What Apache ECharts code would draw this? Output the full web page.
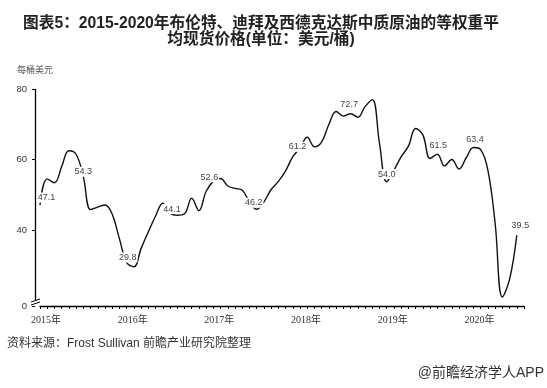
<!DOCTYPE html>
<html>
<head>
<meta charset="utf-8">
<script src="https://cdn.jsdelivr.net/npm/echarts@6.0.0/dist/echarts.min.js"></script>
<style>
html,body{margin:0;padding:0;background:#fff;}
#chart{width:547px;height:388px;}
</style>
</head>
<body>
<div id="chart"></div>
<script>
// ---- data ----
const months = [];
for (let y = 2015; y <= 2020; y++) {
  for (let m = 1; m <= 12; m++) {
    if (y === 2020 && m > 8) break;
    months.push(y + '-' + (m < 10 ? '0' + m : m));
  }
}
const prices = [
  47.1, 54.5, 53.4, 58.0, 62.5, 61.5, 55.1, 45.8, 46.5, 47.1, 44.5, 37.5,
  30.8, 29.6, 34.8, 39.5, 44.0, 47.6, 44.8, 44.2, 44.6, 49.0, 45.5, 51.0,
  53.8, 54.6, 52.5, 51.8, 51.3, 48.0, 45.9, 48.0, 51.5, 53.8, 56.8, 60.8,
  63.3, 66.3, 63.6, 65.0, 70.0, 73.6, 72.3, 73.0, 72.0, 75.0, 77.0, 64.5,
  53.7, 57.0, 60.8, 63.8, 68.8, 67.0, 60.3, 61.5, 58.2, 60.0, 57.3, 60.5,
  63.4, 62.8, 57.0, 42.0, 21.0, 26.0, 38.5
];
const labelIndex = [0, 6, 12, 18, 24, 30, 36, 43, 48, 55, 60, 66];
const labelText = ['47.1', '54.3', '29.8', '44.1', '52.6', '46.2', '61.2', '72.7', '54.0', '61.5', '63.4', '39.5'];
const yTicks = [0, 40, 60, 80];

// ---- styles (label offsets, px) ----
const labelOffsets = [[6.5,-7.5],[0,-5],[1,-5],[2,-4],[-4,-4],[-3,-6.5],[-2.5,-1],[-1.5,-8.7],[0,-7.7],[1,-9],[1.5,-8],[3.6,-10]];

const seriesData = prices.map((v, i) => {
  const k = labelIndex.indexOf(i);
  if (k < 0) return v;
  return {
    value: v,
    label: {
      show: true,
      position: 'inside',
      offset: labelOffsets[k],
      formatter: labelText[k]
    }
  };
});

const chart = echarts.init(document.getElementById('chart'), null, {renderer: 'canvas'});
chart.setOption({
  animation: false,
  backgroundColor: '#fff',
  title: {
    text: '图表5：2015-2020年布伦特、迪拜及西德克达斯中质原油的等权重平\n均现货价格(单位：美元/桶)',
    left: 256,
    textAlign: 'center',
    top: 11,
    textStyle: {
      fontFamily: "'Liberation Sans','Noto Sans CJK SC',sans-serif",
      fontSize: 15.7,
      fontWeight: 'bold',
      color: '#222',
      lineHeight: 16
    }
  },
  grid: {left: 40, right: 23, top: 89, bottom: 82},
  xAxis: {
    type: 'category',
    data: months,
    boundaryGap: false,
    axisLine: {lineStyle: {color: '#000', width: 1.3}},
    axisTick: {show: true, interval: 0, length: 3, lineStyle: {color: '#000'}},
    axisLabel: {
      interval: (idx) => idx % 12 === 0,
      formatter: (v) => v.slice(0, 4) + '年',
      fontFamily: "'Liberation Serif','Noto Sans CJK SC',serif",
      fontSize: 10,
      color: '#333',
      margin: 9,
      padding: [0, 0, 0, 12]
    },
    splitLine: {show: false}
  },
  yAxis: {
    type: 'value',
    min: 0,
    max: 80,
    interval: 20,
    offset: 5,
    breaks: [{start: 0, end: 20, gap: '2.5%'}],
    breakArea: {show: false},
    name: '每桶美元',
    nameLocation: 'end',
    nameGap: 15,
    nameTextStyle: {fontSize: 9, color: '#555', fontFamily: "'Noto Sans CJK SC',sans-serif"},
    axisLine: {show: true, lineStyle: {color: '#000', width: 1.3}},
    axisTick: {show: true, length: 3, lineStyle: {color: '#000'}, customValues: yTicks},
    axisLabel: {
      customValues: yTicks,
      fontSize: 9.5,
      color: '#333',
      margin: 8,
      fontFamily: "'Liberation Sans',sans-serif"
    },
    splitLine: {show: false}
  },
  series: [{
    type: 'line',
    data: seriesData,
    smooth: 0.4,
    showSymbol: true,
    showAllSymbol: true,
    symbol: 'circle',
    symbolSize: 1,
    itemStyle: {color: 'rgba(0,0,0,0)'},
    lineStyle: {color: '#111', width: 1.4},
    label: {
      show: false,
      fontSize: 9,
      color: '#444',
      backgroundColor: '#fff',
      padding: [1, 1, 0, 1],
      fontFamily: "'Liberation Sans',sans-serif"
    },
    emphasis: {disabled: true}
  }]
});

// axis-break mark at the bottom of the y axis, plus footer texts
const yb = chart.convertToPixel({yAxisIndex: 0}, 0);
const ax = 35;
chart.setOption({
  graphic: [
    {
      id: 'src', type: 'text', left: 7, top: 338, z: 100,
      style: {text: '资料来源：Frost Sullivan 前瞻产业研究院整理', fontSize: 12, fill: '#333', fontWeight: 'normal',
              fontFamily: "'Liberation Sans','Noto Sans CJK SC',sans-serif"}
    },
    {
      id: 'brand', type: 'text', right: 3, top: 366, z: 100,
      style: {text: '@前瞻经济学人APP', fontSize: 14, fill: '#333', fontWeight: 'normal',
              fontFamily: "'Liberation Sans','Noto Sans CJK SC',sans-serif"}
    },
    {id: 'bk0', type: 'rect', shape: {x: ax - 1.5, y: yb - 6, width: 3, height: 3}, style: {fill: '#fff'}, z: 99},
    {id: 'bk1', type: 'line', shape: {x1: ax - 4, y1: yb - 1, x2: ax + 5, y2: yb - 4}, style: {stroke: '#000', lineWidth: 1}, z: 100},
    {id: 'bk2', type: 'line', shape: {x1: ax - 4, y1: yb - 4, x2: ax + 5, y2: yb - 7}, style: {stroke: '#000', lineWidth: 1}, z: 100}
  ]
});
</script>
</body>
</html>
